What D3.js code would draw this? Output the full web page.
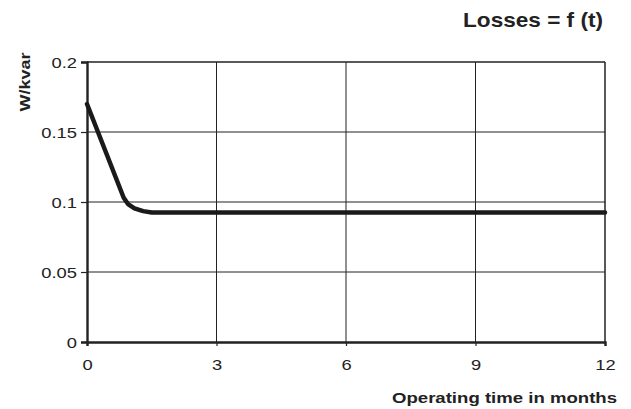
<!DOCTYPE html>
<html>
<head>
<meta charset="utf-8">
<script src="https://cdn.jsdelivr.net/npm/d3@7"></script>
<style>
  body { margin: 0; background: #fff; }
  text { font-family: "Liberation Sans", Arial, sans-serif; fill: #222; }
</style>
</head>
<body>
<div class="canvas"></div>
<script>
// data
const months = [0, 0.85, 0.95, 1.1, 1.3, 1.5, 12];
const losses = [0.17, 0.103, 0.0985, 0.0955, 0.0935, 0.0925, 0.0925];
const xTicks = [0, 3, 6, 9, 12];
const yTicks = [0, 0.05, 0.1, 0.15, 0.2];

// the original lettering is a bit wider than Arial
const stretch = 1.24;

const svg = d3.select('.canvas')
    .append('svg')
    .attr('width', 631)
    .attr('height', 409);

const x = d3.scaleLinear()
    .domain([0, 12])
    .range([87, 605]);

const y = d3.scaleLinear()
    .domain([0, 0.2])
    .range([342, 62]);

// grid
svg.selectAll('line.hgrid')
    .data(yTicks.slice(1))
    .enter()
    .append('line')
    .attr('x1', x(0)).attr('x2', x(12))
    .attr('y1', d => y(d)).attr('y2', d => y(d))
    .attr('stroke', '#222')
    .attr('stroke-width', d => d === 0.2 ? 1.5 : 1);

svg.selectAll('line.vgrid')
    .data(xTicks.slice(1))
    .enter()
    .append('line')
    .attr('y1', y(0)).attr('y2', y(0.2))
    .attr('x1', d => x(d)).attr('x2', d => x(d))
    .attr('stroke', '#222')
    .attr('stroke-width', d => d === 12 ? 1.5 : 1);

// axes
const xAxis = svg.append('g')
    .attr('transform', `translate(0,${y(0)})`)
    .call(d3.axisBottom(x).tickValues(xTicks).tickSize(4).tickFormat(d3.format('d')));

const yAxis = svg.append('g')
    .attr('transform', `translate(${x(0)},0)`)
    .call(d3.axisLeft(y).tickValues(yTicks).tickSize(6).tickFormat(d => d === 0 ? '0' : String(d)));

[xAxis, yAxis].forEach(g => {
    g.select('.domain').attr('stroke', '#222').attr('stroke-width', 2.4);
    g.selectAll('.tick line').attr('stroke', '#222').attr('stroke-width', 1.2);
    g.selectAll('.tick text')
        .attr('font-size', 14.8)
        .attr('fill', '#222')
        .style('font-family', '"Liberation Sans", Arial, sans-serif');
});

xAxis.selectAll('.tick text')
    .attr('dy', null)
    .attr('y', 28)
    .attr('transform', `scale(${stretch},1)`);

yAxis.selectAll('.tick text')
    .attr('x', -10 / stretch)
    .attr('dy', '0.36em')
    .attr('transform', `scale(${stretch},1)`);

// the curve
const line = d3.line()
    .x(d => x(d[0]))
    .y(d => y(d[1]));

svg.append('path')
    .datum(months.map((m, i) => [m, losses[i]]))
    .attr('d', line)
    .attr('fill', 'none')
    .attr('stroke', '#1a1a1a')
    .attr('stroke-width', 4.5)
    .attr('stroke-linejoin', 'round')
    .attr('stroke-linecap', 'round');

// labels
svg.append('text')
    .attr('transform', 'translate(603,27) scale(1.13,1)')
    .attr('text-anchor', 'end')
    .attr('font-size', 20)
    .attr('font-weight', 'bold')
    .text('Losses = f (t)');

svg.append('text')
    .attr('transform', `translate(617,403) scale(${stretch},1)`)
    .attr('text-anchor', 'end')
    .attr('font-size', 15)
    .attr('font-weight', 'bold')
    .text('Operating time in months');

svg.append('text')
    .attr('transform', `translate(30,82) rotate(-90) scale(${stretch},1)`)
    .attr('text-anchor', 'middle')
    .attr('font-size', 14.5)
    .attr('font-weight', 'bold')
    .text('W/kvar');
</script>
</body>
</html>
